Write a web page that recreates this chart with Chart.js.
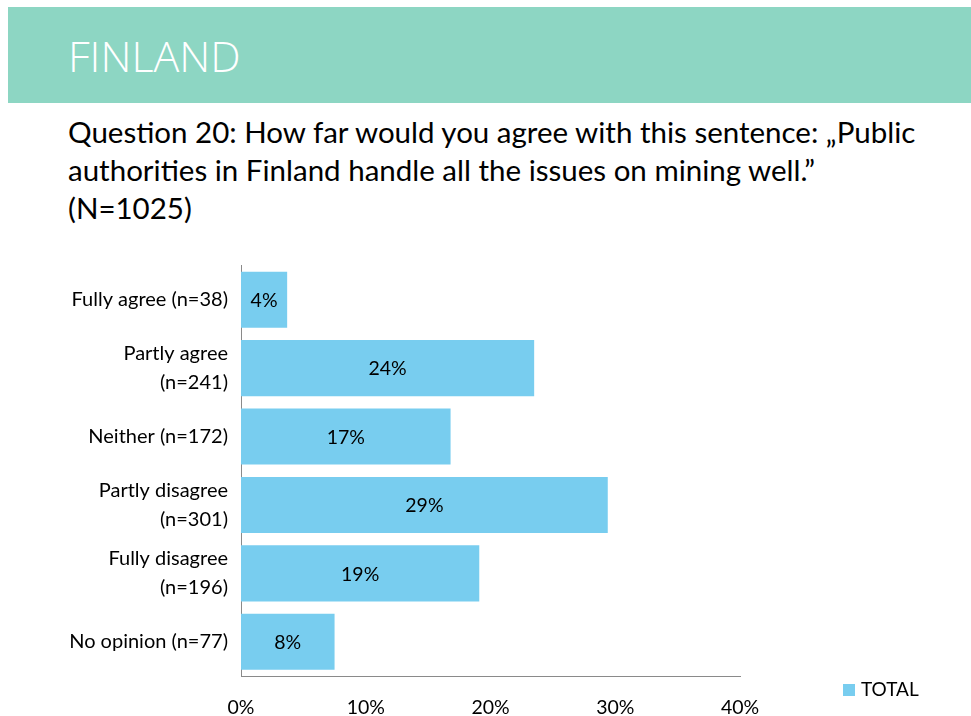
<!DOCTYPE html>
<html>
<head>
<meta charset="utf-8">
<script src="https://cdn.jsdelivr.net/npm/chart.js@4.4.1/dist/chart.umd.min.js"></script>
<style>
  html, body { margin: 0; padding: 0; background: #fff; }
  body { width: 971px; height: 716px; position: relative; overflow: hidden; font-family: Lato, "Open Sans", sans-serif; }
  #band { position: absolute; left: 8px; top: 7px; width: 963px; height: 96px; background: #8dd6c3; }
  #band span { position: absolute; left: 60px; top: 22px; color: #fff; font-family: "Open Sans", Lato, sans-serif; font-weight: 300; font-size: 43px; line-height: 54px; }
  #question { position: absolute; left: 68px; top: 113px; font-size: 29.5px; line-height: 38px; color: #000; white-space: nowrap; }
  #chartBox { position: absolute; left: 0; top: 238px; width: 971px; height: 478px; }
  #legend { position: absolute; left: 843px; top: 677px; font-size: 19px; line-height: 24px; color: #000; }
  #legend i { display: inline-block; width: 12px; height: 12px; background: #78cdef; margin-right: 6px; vertical-align: 0px; }
</style>
</head>
<body>
<div id="band"><span>FINLAND</span></div>
<div id="question">Question 20: How far would you agree with this sentence: „Public<br>authorities in Finland handle all the issues on mining well.”<br>(N=1025)</div>
<div id="chartBox"><canvas id="chart" width="971" height="478"></canvas></div>
<div id="legend"><i></i>TOTAL</div>

<script>
// answer categories (multi-line where the label wraps)
const categories = [
    ['Fully agree (n=38)'],
    ['Partly agree', '(n=241)'],
    ['Neither (n=172)'],
    ['Partly disagree', '(n=301)'],
    ['Fully disagree', '(n=196)'],
    ['No opinion (n=77)']
];
// share of respondents in percent
const totalShare = [3.7, 23.5, 16.8, 29.4, 19.1, 7.5];
const seriesName = 'TOTAL';

const barColor = '#78cdef';
const textFont = 'Lato, "Open Sans", sans-serif';

// write the rounded percentage in the middle of each bar
const barValueLabels = {
    id: 'barValueLabels',
    afterDatasetsDraw(chart) {
        const ctx = chart.ctx;
        const meta = chart.getDatasetMeta(0);
        const values = chart.data.datasets[0].data;
        ctx.save();
        ctx.font = '19.5px ' + textFont;
        ctx.fillStyle = '#000';
        ctx.textAlign = 'center';
        ctx.textBaseline = 'middle';
        meta.data.forEach((bar, i) => {
            const cx = (bar.base + bar.x) / 2;
            ctx.fillText(Math.round(values[i]) + '%', cx, bar.y + 1);
        });
        ctx.restore();
    }
};

new Chart(document.getElementById('chart'), {
    type: 'bar',
    data: {
        labels: categories,
        datasets: [{
            label: seriesName,
            data: totalShare,
            backgroundColor: barColor,
            borderWidth: 0,
            categoryPercentage: 1,
            barPercentage: 0.82
        }]
    },
    options: {
        indexAxis: 'y',
        responsive: false,
        animation: false,
        layout: { padding: { top: 0, right: 231, left: 0, bottom: 0 } },
        plugins: {
            legend: { display: false },
            tooltip: { enabled: false }
        },
        scales: {
            x: {
                min: 0,
                max: 40,
                ticks: {
                    stepSize: 10,
                    padding: 20,
                    color: '#000',
                    font: { family: textFont, size: 19.5 },
                    callback: (v) => v + '%'
                },
                grid: { display: false, drawTicks: false },
                border: { display: true, color: '#8a8a8a', width: 1 },
                afterFit(scale) { scale.height = 40; }
            },
            y: {
                ticks: {
                    padding: 13,
                    color: '#000',
                    font: { family: textFont, size: 20, lineHeight: 1.45 }
                },
                grid: { display: false, drawTicks: false },
                border: { display: true, color: '#8a8a8a', width: 1 },
                afterFit(scale) { scale.width = 241; }
            }
        }
    },
    plugins: [barValueLabels]
});
</script>
</body>
</html>
